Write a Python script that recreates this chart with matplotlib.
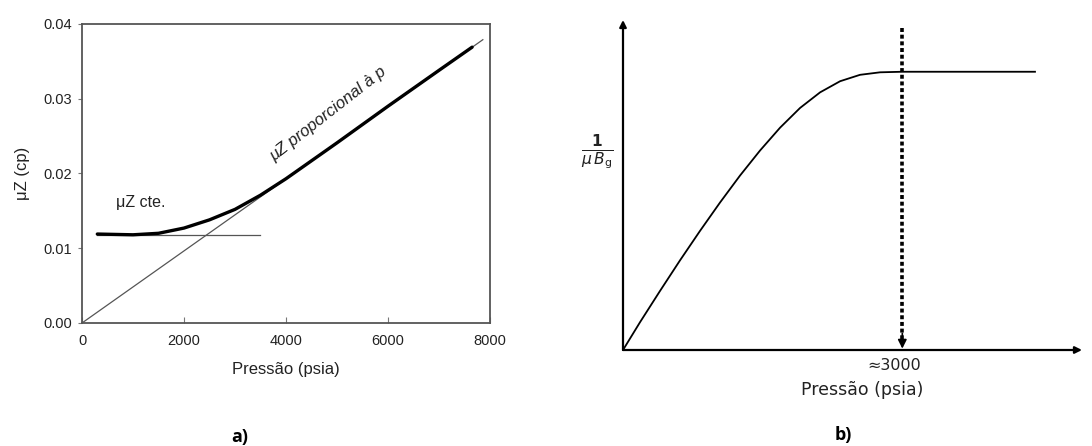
import numpy as np
import matplotlib
matplotlib.use("Agg")
import matplotlib.pyplot as plt

plt.rcParams['font.family'] = ['Liberation Sans', 'DejaVu Sans']

# a) muZ versus pressure
p_curve = [300, 1000, 1500, 2000, 2500, 3000, 3500, 4000, 5000, 6000, 7000, 7650]
muz_curve = [0.0119, 0.0118, 0.0120, 0.0127, 0.0138, 0.0152, 0.0171, 0.0193,
             0.0241, 0.0290, 0.0338, 0.0369]
p_line = [0, 7860]
muz_line = [0.0, 0.0379]
p_flat = [300, 3500]
muz_flat = [0.0118, 0.0118]
x_ticks_a = [0, 2000, 4000, 6000, 8000]
y_ticks_a = [0.00, 0.01, 0.02, 0.03, 0.04]

# b) 1/(mu Bg) versus pressure (normalised)
p_b = [0, 183, 397, 612, 827, 1042, 1257, 1472, 1687, 1902, 2117, 2332,
       2546, 2761, 3000, 4425]
inv_b = [0.0, 0.100, 0.212, 0.322, 0.428, 0.530, 0.627, 0.717, 0.799, 0.870,
         0.926, 0.966, 0.989, 0.998, 1.0, 1.0]
p_mark = 3000
x_max_b = 4930
y_max_b = 1.186

ink = '#222222'

fig = plt.figure(figsize=(10.92, 4.46), dpi=100)

ax = fig.add_axes([0.0751, 0.2758, 0.3736, 0.6704])
ax.plot(p_line, muz_line, color='#555555', lw=0.9)
ax.plot(p_flat, muz_flat, color='#555555', lw=0.9)
ax.plot(p_curve, muz_curve, color='black', lw=2.4, solid_capstyle='round')
ax.set_xlim(0, 8000)
ax.set_ylim(0, 0.04)
ax.set_xticks(x_ticks_a)
ax.set_yticks(y_ticks_a)
ax.set_xticklabels([str(v) for v in x_ticks_a])
ax.set_yticklabels([f"{v:.2f}" for v in y_ticks_a])
ax.tick_params(axis='x', direction='in', length=4, width=0.8, colors='#777777',
               labelcolor=ink, labelsize=10.5, pad=8)
ax.tick_params(axis='y', direction='out', length=3, width=0.8, colors='#777777',
               labelcolor=ink, labelsize=10.5, pad=4)
for s in ax.spines.values():
    s.set_color('#555555')
    s.set_linewidth(1.3)
ax.set_xlabel('Pressão (psia)', fontsize=12, color=ink, labelpad=10)
ax.set_ylabel('μZ (cp)', fontsize=12, color=ink, labelpad=10)
ax.text(1160, 0.0161, 'μZ cte.', fontsize=11.5, color=ink, ha='center', va='center')
ax.text(4820, 0.0279, 'μZ proporcional à p', fontsize=12, color=ink,
        ha='center', va='center', rotation=38, style='italic')
fig.text(240 / 1092, 1 - 437 / 446, 'a)', fontsize=13, fontweight='bold',
         ha='center', va='center', family='Open Sans')

bx = fig.add_axes([623 / 1092, 1 - 350 / 446, 459 / 1092, 330 / 446])
bx.set_xlim(0, x_max_b)
bx.set_ylim(0, y_max_b)
bx.axis('off')
bx.plot(p_b, inv_b, color='black', lw=1.3, solid_joinstyle='round')
bx.annotate('', xy=(x_max_b, 0), xytext=(0, 0),
            arrowprops=dict(arrowstyle='-|>', color='black', lw=1.6,
                            mutation_scale=10, shrinkA=0, shrinkB=0))
bx.annotate('', xy=(0, y_max_b), xytext=(0, 0),
            arrowprops=dict(arrowstyle='-|>', color='black', lw=1.6,
                            mutation_scale=10, shrinkA=0, shrinkB=0))
# dotted marker down to ~3000 psia with its arrow head
bx.plot([p_mark, p_mark], [1.157, 0.04], color='black', lw=2.6,
        linestyle=(0, (1.1, 0.75)), solid_capstyle='butt')
bx.annotate('', xy=(p_mark, 0.005), xytext=(p_mark, 0.06),
            arrowprops=dict(arrowstyle='-|>', color='black', lw=1.2,
                            mutation_scale=13, shrinkA=0, shrinkB=0))
bx.text(p_mark - 90, -0.03, '≈3000', fontsize=11.5, ha='center', va='top',
        color=ink, family='DejaVu Sans')
bx.text(2570, -0.113, 'Pressão (psia)', fontsize=12.5, ha='center', va='top',
        color=ink, family='DejaVu Sans')
fig.text(597 / 1092, 1 - 152 / 446, r'$\frac{\mathbf{1}}{\mu\,B_{\rm g}}$',
         fontsize=16, ha='center', va='center', color=ink)
fig.text(843 / 1092, 1 - 435 / 446, 'b)', fontsize=13, fontweight='bold',
         ha='center', va='center', family='Open Sans')

fig.savefig('out.png', dpi=100)
